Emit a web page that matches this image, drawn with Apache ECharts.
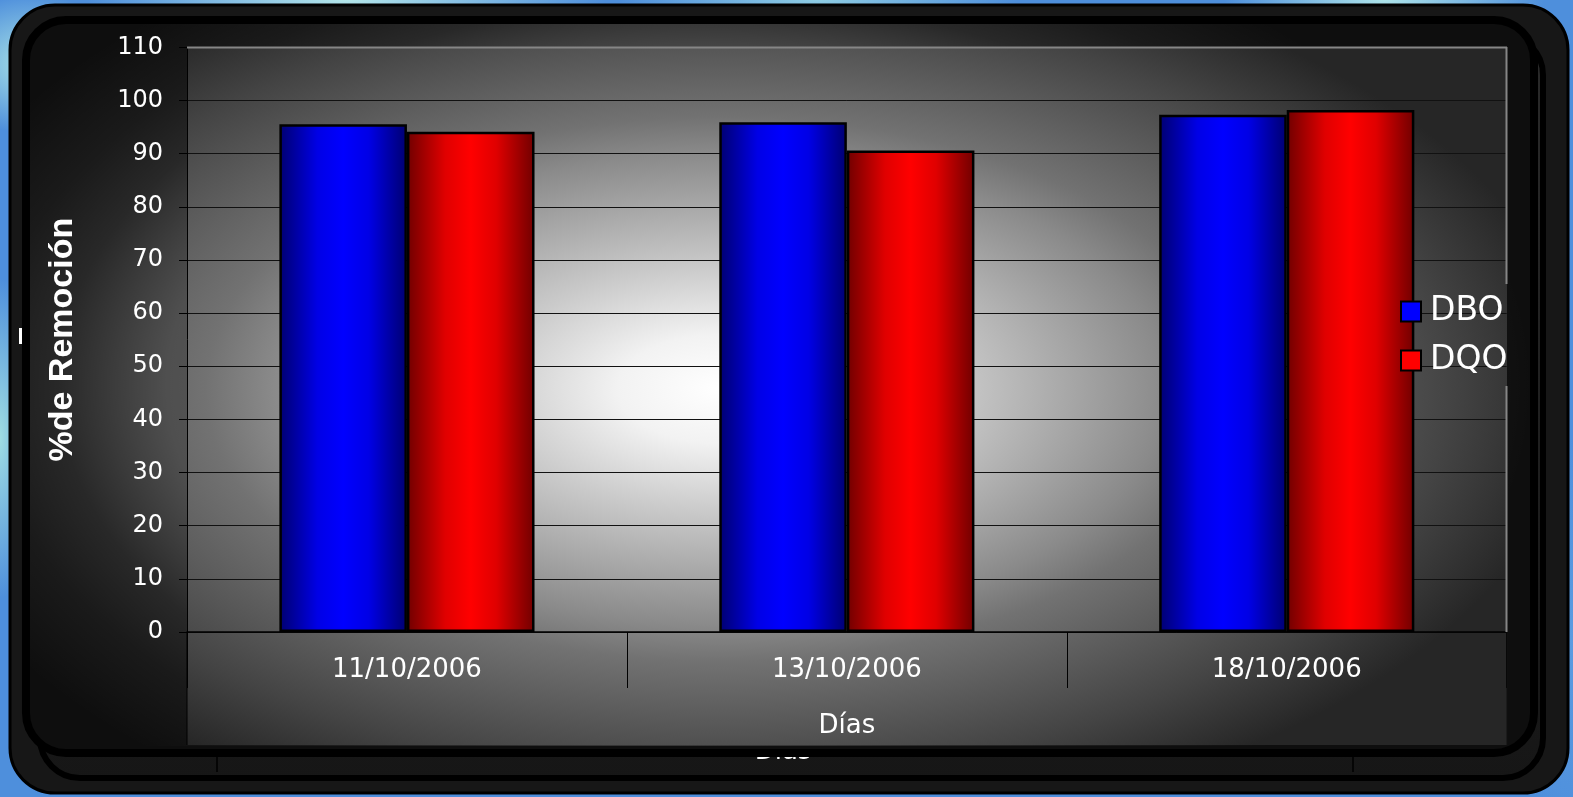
<!DOCTYPE html>
<html>
<head>
<meta charset="utf-8">
<title>% de Remoción DBO / DQO</title>
<script src="https://cdn.jsdelivr.net/npm/echarts@6/dist/echarts.min.js"></script>
<style>
  html, body { margin: 0; padding: 0; }
  body {
    width: 1573px; height: 797px; overflow: hidden;
    background:
      radial-gradient(ellipse 90px 70px at 2% 8%, #a9e3e6 0, rgba(169,227,230,0) 100%),
      radial-gradient(ellipse 260px 40px at 22% 0%, #b4e6ea 0, rgba(180,230,234,0) 100%),
      radial-gradient(ellipse 200px 30px at 52% 0%, #8fcde4 0, rgba(143,205,228,0) 100%),
      radial-gradient(ellipse 160px 40px at 88% 0%, #aee4ea 0, rgba(174,228,234,0) 100%),
      radial-gradient(ellipse 40px 160px at 0% 55%, #9fdde2 0, rgba(159,221,226,0) 100%),
      radial-gradient(ellipse 60px 200px at 100% 80%, #5a9be0 0, rgba(90,155,224,0) 100%),
      #4e8fdc;
  }
  #chart { width: 1573px; height: 797px; }
</style>
</head>
<body>
<div id="chart"></div>
<script>
// Sampling dates and removal percentages
const categories = ['11/10/2006', '13/10/2006', '18/10/2006'];
const seriesNames = ['DBO', 'DQO'];
const dboValues = [95.5, 95.9, 97.3];
const dqoValues = [94.1, 90.6, 98.2];

const FONT = 'DejaVu Sans';

function barGradient(dark, mid, bright) {
  return {
    type: 'linear', x: 0, y: 0, x2: 1, y2: 0,
    colorStops: [
      { offset: 0, color: dark },
      { offset: 0.3, color: mid },
      { offset: 0.5, color: bright },
      { offset: 0.7, color: mid },
      { offset: 1, color: dark }
    ]
  };
}

// Decorative frame: two stacked rounded panels and a lit plot backdrop
const plotW = 1320, plotH = 698;
const frontW = 1500, frontH = 722, frontSX = 1.674;

const graphics = [
  { type: 'rect', silent: true, z: -20,
    shape: { x: 10, y: 5, width: 1558, height: 788, r: 45 },
    style: { fill: '#171717', stroke: '#000', lineWidth: 3 } },
  { type: 'rect', silent: true, z: -19,
    shape: { x: 40, y: 35, width: 1503, height: 743, r: 40 },
    style: { fill: { type: 'linear', x: 0, y: 0, x2: 0, y2: 1,
      colorStops: [{ offset: 0, color: '#2a2a2a' }, { offset: 1, color: '#161616' }] },
      stroke: '#000', lineWidth: 6 } },
  { type: 'line', silent: true, z: -18,
    shape: { x1: 217, y1: 752, x2: 217, y2: 772 }, style: { stroke: '#000', lineWidth: 1.5 } },
  { type: 'line', silent: true, z: -18,
    shape: { x1: 1353, y1: 752, x2: 1353, y2: 772 }, style: { stroke: '#000', lineWidth: 1.5 } },
  { type: 'text', silent: true, z: -18, x: 783, y: 752,
    style: { text: 'Días', fill: '#fff', font: '26px "DejaVu Sans"', align: 'center', verticalAlign: 'middle' } },
  { type: 'rect', silent: true, z: -18,
    shape: { x: 19, y: 328, width: 5, height: 16 }, style: { fill: '#fff' } },
  { type: 'rect', silent: true, z: -17,
    shape: { x: 26, y: 20, width: 1508, height: 733, r: 40 },
    style: { fill: '#0e0e0e', stroke: '#000', lineWidth: 8 } },
  { type: 'rect', silent: true, z: -16, x: 30, y: 24, scaleX: frontSX,
    shape: { x: 0, y: 0, width: frontW / frontSX, height: frontH },
    style: { fill: { type: 'radial', x: 0.45, y: 0.5, r: 0.685,
      colorStops: [
        { offset: 0, color: 'rgba(255,255,255,0.5)' },
        { offset: 0.65, color: 'rgba(255,255,255,0.27)' },
        { offset: 0.78, color: 'rgba(255,255,255,0.11)' },
        { offset: 0.87, color: 'rgba(255,255,255,0.05)' },
        { offset: 1, color: 'rgba(255,255,255,0)' }
      ] } } },
  { type: 'rect', silent: true, z: -15, x: 187, y: 47, scaleX: plotW / plotH,
    shape: { x: 0, y: 0, width: plotH, height: plotH },
    style: { fill: { type: 'radial', x: 0.404, y: 0.49, r: 0.65,
      colorStops: [
        { offset: 0, color: '#ffffff' },
        { offset: 0.12, color: '#f2f2f2' },
        { offset: 0.27, color: '#cacaca' },
        { offset: 0.52, color: '#8a8a8a' },
        { offset: 0.6, color: '#727272' },
        { offset: 0.85, color: '#444444' },
        { offset: 1, color: '#262626' }
      ] } } },
  { type: 'line', silent: true, z: 5,
    shape: { x1: 187, y1: 632, x2: 187, y2: 745 }, style: { stroke: '#000', lineWidth: 1 } },
  { type: 'line', silent: true, z: 5,
    shape: { x1: 1507, y1: 632, x2: 1507, y2: 745 }, style: { stroke: '#111', lineWidth: 1 } },
  { type: 'line', silent: true, z: 5,
    shape: { x1: 187, y1: 47.5, x2: 1507, y2: 47.5 }, style: { stroke: '#868686', lineWidth: 2 } },
  { type: 'line', silent: true, z: 5,
    shape: { x1: 1506.5, y1: 47, x2: 1506.5, y2: 284 }, style: { stroke: '#868686', lineWidth: 2 } },
  { type: 'line', silent: true, z: 5,
    shape: { x1: 1506.5, y1: 386, x2: 1506.5, y2: 632 }, style: { stroke: '#868686', lineWidth: 2 } }
];

const chart = echarts.init(document.getElementById('chart'), null, { renderer: 'canvas' });

chart.setOption({
  backgroundColor: 'transparent',
  animation: false,
  graphic: graphics,
  grid: { left: 187, top: 47.3, right: 66.3, bottom: 165, containLabel: false },
  legend: {
    orient: 'vertical',
    left: 1395,
    top: 290,
    itemWidth: 20,
    itemHeight: 20,
    itemGap: 16,
    icon: 'rect',
    textStyle: { color: '#fff', fontSize: 33, fontFamily: FONT, padding: [0, 0, 0, 4] },
    data: [
      { name: seriesNames[0], itemStyle: { color: '#0000ff', borderColor: '#000', borderWidth: 2 } },
      { name: seriesNames[1], itemStyle: { color: '#ff0000', borderColor: '#000', borderWidth: 2 } }
    ]
  },
  xAxis: {
    type: 'category',
    data: categories,
    boundaryGap: true,
    axisLine: { show: true, lineStyle: { color: '#000', width: 1.5 } },
    axisTick: { show: true, length: 56, interval: 0, lineStyle: { color: '#000', width: 1 } },
    axisLabel: { color: '#fff', fontSize: 26, fontFamily: FONT, margin: 25 },
    name: 'Días',
    nameLocation: 'middle',
    nameGap: 81,
    nameTextStyle: { color: '#fff', fontSize: 26, fontFamily: FONT }
  },
  yAxis: {
    type: 'value',
    min: 0,
    max: 110,
    interval: 10,
    axisLine: { show: true, lineStyle: { color: '#000', width: 1 } },
    axisTick: { show: true, length: 8, lineStyle: { color: '#000', width: 1 } },
    axisLabel: { color: '#fff', fontSize: 24, fontFamily: FONT, margin: 24 },
    splitLine: { show: true, lineStyle: { color: '#111', width: 1 } },
    name: '%de Remoción',
    nameLocation: 'middle',
    nameGap: 107,
    nameRotate: 90,
    nameTextStyle: { color: '#fff', fontSize: 34, fontWeight: 'bold', fontFamily: 'Liberation Sans' }
  },
  series: [
    {
      name: seriesNames[0],
      type: 'bar',
      data: dboValues,
      barGap: '0%',
      barCategoryGap: '42%',
      itemStyle: { color: barGradient('#000070', '#0000e6', '#0000ff'), borderColor: '#000', borderWidth: 2.5 }
    },
    {
      name: seriesNames[1],
      type: 'bar',
      data: dqoValues,
      barGap: '0%',
      barCategoryGap: '42%',
      itemStyle: { color: barGradient('#700000', '#e00000', '#ff0000'), borderColor: '#000', borderWidth: 2.5 }
    }
  ]
});
</script>
</body>
</html>
